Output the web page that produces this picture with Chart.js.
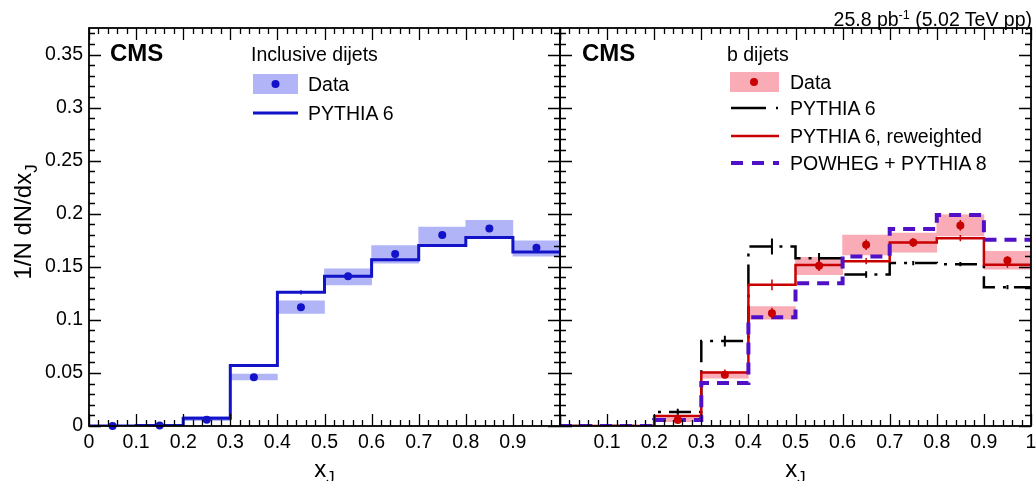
<!DOCTYPE html>
<html>
<head>
<meta charset="utf-8">
<script src="https://cdn.jsdelivr.net/npm/chart.js@4.4.1/dist/chart.umd.min.js"></script>
<style>
  html, body { margin: 0; padding: 0; background: #fff; overflow: hidden; }
  body { width: 1036px; height: 481px; position: relative; font-family: "Liberation Sans", Arial, sans-serif; color: #000; }
  canvas { position: absolute; top: 0; }
  .t { position: absolute; white-space: nowrap; font-size: 19.5px; line-height: 1; }
  .cms { font-weight: bold; font-size: 24px; }
  .axt { font-size: 24px; text-align: center; width: 300px; }
  .axt sub { font-size: 70%; vertical-align: -0.35em; line-height: 0; }
  sup { font-size: 65%; vertical-align: 0.55em; line-height: 0; }
  svg { position: absolute; left: 0; top: 0; }
</style>
</head>
<body>
<canvas id="left" width="580" height="481" style="left:0"></canvas>
<canvas id="right" width="520" height="481" style="left:540px"></canvas>

<svg width="1036" height="481">
  <!-- left legend -->
  <rect x="253" y="74" width="45" height="20" fill="#b1b5f8"/>
  <circle cx="275.5" cy="84" r="4" fill="#1212c8"/>
  <line x1="253" y1="113" x2="298" y2="113" stroke="#1212c8" stroke-width="3"/>
  <!-- right legend -->
  <rect x="730" y="72" width="49" height="20" fill="#f9abb6"/>
  <circle cx="754" cy="82" r="4" fill="#c80000"/>
  <line x1="731" y1="108" x2="766" y2="108" stroke="#000" stroke-width="2.5"/>
  <line x1="776" y1="108" x2="778" y2="108" stroke="#000" stroke-width="2.5"/>
  <line x1="731" y1="136" x2="779" y2="136" stroke="#c80000" stroke-width="2.5"/>
  <line x1="731" y1="163" x2="779" y2="163" stroke="#5010c8" stroke-width="4" stroke-dasharray="12 9"/>
</svg>

<div class="t cms" style="left:110px; top:41px">CMS</div>
<div class="t" style="left:251px; top:45px">Inclusive dijets</div>
<div class="t" style="left:308px; top:74.5px">Data</div>
<div class="t" style="left:308px; top:103.5px">PYTHIA 6</div>

<div class="t cms" style="left:582px; top:41px">CMS</div>
<div class="t" style="left:727px; top:44.5px">b dijets</div>
<div class="t" style="left:790px; top:72.5px">Data</div>
<div class="t" style="left:790px; top:98.5px">PYTHIA 6</div>
<div class="t" style="left:790px; top:126.5px">PYTHIA 6, reweighted</div>
<div class="t" style="left:790px; top:153.5px">POWHEG + PYTHIA 8</div>

<div class="t" style="right:4px; top:9.5px">25.8 pb<sup>-1</sup> (5.02 TeV pp)</div>

<div class="t axt" style="left:-127px; top:210px; transform:rotate(-90deg)">1/N dN/dx<sub>J</sub></div>
<div class="t axt" style="left:174.5px; top:456.5px">x<sub>J</sub></div>
<div class="t axt" style="left:645.5px; top:456.5px">x<sub>J</sub></div>

<script>
// bins in x_J
const binEdges = [0, 0.1, 0.2, 0.3, 0.4, 0.5, 0.6, 0.7, 0.8, 0.9, 1.0];
const binCenters = [0.05, 0.15, 0.25, 0.35, 0.45, 0.55, 0.65, 0.75, 0.85, 0.95];

// inclusive dijets
const incData = [0, 0.0005, 0.006, 0.046, 0.112, 0.141, 0.162, 0.180, 0.186, 0.168];
const incSysLo = [0, 0, 0.005, 0.0434, 0.106, 0.133, 0.1535, 0.1717, 0.178, 0.160];
const incSysHi = [0, 0, 0.0088, 0.049, 0.118, 0.148, 0.170, 0.1875, 0.1937, 0.1745];
const incPythia = [0, 0.0005, 0.0072, 0.057, 0.126, 0.141, 0.1566, 0.170, 0.1777, 0.164];
const incPythiaErr = [0, 0, 0.001, 0.001, 0.002, 0.001, 0.001, 0.001, 0.001, 0.001];

// b dijets
const bData = [null, null, 0.0057, 0.0484, 0.1063, 0.151, 0.1708, 0.173, 0.189, 0.156];
const bDataErr = [0, 0, 0.002, 0.003, 0.005, 0.005, 0.005, 0.004, 0.005, 0.004];
const bSysLo = [0, 0, 0.004, 0.045, 0.1006, 0.1425, 0.1613, 0.1638, 0.179, 0.1478];
const bSysHi = [0, 0, 0.0078, 0.0512, 0.1126, 0.159, 0.180, 0.1818, 0.199, 0.1645];
const bPythia = [0, 0, 0.0132, 0.080, 0.1692, 0.158, 0.1428, 0.1535, 0.1525, 0.1308];
const bPythiaErr = [0, 0, 0.003, 0.005, 0.0075, 0.005, 0.003, 0.002, 0.002, 0.002];
const bReweighted = [0, 0, 0.0094, 0.0503, 0.133, 0.1516, 0.1553, 0.173, 0.177, 0.152];
const bReweightedErr = [0, 0, 0.002, 0.003, 0.005, 0.004, 0.003, 0.004, 0.003, 0.003];
const bPowheg = [0, 0, 0.0057, 0.0405, 0.1025, 0.1346, 0.1598, 0.1855, 0.1987, 0.1755];

const yMax = 0.375;
const FONT = "'Liberation Sans', Arial, sans-serif";

const BLUE = "#1212c8", BLUE_BAND = "#b1b5f8";
const RED = "#c80000", RED_BAND = "#f9abb6";
const PURPLE = "#5010c8";

// histogram as step line through the bin edges
function steps(vals) {
  const pts = vals.map((v, i) => ({ x: binEdges[i], y: v }));
  pts.push({ x: binEdges[binEdges.length - 1], y: vals[vals.length - 1] });
  return pts;
}

// vertical error bars as separate segments
function errBars(vals, errs) {
  const pts = [];
  vals.forEach((v, i) => {
    if (v == null || !errs[i]) return;
    pts.push({ x: binCenters[i], y: v - errs[i] }, { x: binCenters[i], y: v + errs[i] }, { x: binCenters[i], y: null });
  });
  return pts;
}

function band(lo, hi) {
  const out = [];
  binCenters.forEach((c, i) => {
    if (hi[i] > lo[i]) out.push({ x: c, y: [lo[i], hi[i]] });
  });
  return out;
}

function points(vals) {
  const out = [];
  binCenters.forEach((c, i) => { if (vals[i] != null) out.push({ x: c, y: vals[i] }); });
  return out;
}

// frame with inward ROOT style ticks on all four sides
const framePlugin = {
  id: "frame",
  afterDraw(chart) {
    const { ctx, chartArea: a, scales } = chart;
    const x = scales.x, y = scales.y;
    ctx.save();
    ctx.strokeStyle = "#000";
    ctx.lineWidth = 1.3;
    ctx.beginPath();
    for (let i = 0; i <= 50; i++) {
      const px = Math.round(x.getPixelForValue(i * 0.02)) + 0.5;
      const len = i % 5 === 0 ? 12 : 6;
      ctx.moveTo(px, a.bottom); ctx.lineTo(px, a.bottom - len);
      ctx.moveTo(px, a.top); ctx.lineTo(px, a.top + len);
    }
    for (let i = 0; i <= 37; i++) {
      const py = Math.round(y.getPixelForValue(i * 0.01)) + 0.5;
      const len = i % 5 === 0 ? 12 : 6;
      ctx.moveTo(a.left, py); ctx.lineTo(a.left + len, py);
      ctx.moveTo(a.right, py); ctx.lineTo(a.right - len, py);
    }
    ctx.stroke();
    ctx.lineWidth = 1.8;
    ctx.strokeRect(a.left, a.top, a.right - a.left, a.bottom - a.top);
    ctx.restore();
  }
};

function makeOptions(side) {
  const isLeft = side === "left";
  const tickFont = { family: FONT, size: 19.5 };
  return {
    responsive: false,
    animation: false,
    events: [],
    layout: { padding: isLeft ? { top: 28, right: 20, left: 0, bottom: 0 } : { top: 28, right: 29, left: 20, bottom: 0 } },
    plugins: { legend: { display: false }, tooltip: { enabled: false } },
    scales: {
      x: {
        type: "linear", min: 0, max: 1, offset: false,
        grid: { display: false, drawTicks: false }, border: { display: false },
        ticks: {
          stepSize: 0.1, autoSkip: false, maxRotation: 0, padding: 5, color: "#000", font: tickFont,
          callback: v => ((isLeft && v >= 0.999) || (!isLeft && v <= 0.001)) ? "" : String(+v.toFixed(1))
        },
        afterFit: s => { s.height = 55; }
      },
      y: {
        type: "linear", min: 0, max: yMax, display: isLeft,
        grid: { display: false, drawTicks: false }, border: { display: false },
        ticks: {
          stepSize: 0.05, includeBounds: false, padding: 6, color: "#000", font: tickFont,
          callback: v => String(+v.toFixed(2))
        },
        afterFit: s => { if (isLeft) s.width = 89; }
      }
    }
  };
}

const stepStyle = { type: "line", stepped: "before", pointRadius: 0, fill: false, tension: 0 };
const errStyle = { type: "line", pointRadius: 0, spanGaps: false, fill: false };
const bandStyle = { type: "bar", barPercentage: 1, categoryPercentage: 1, borderWidth: 0, grouped: false };

new Chart(document.getElementById("left"), {
  type: "line",
  data: {
    datasets: [
      { type: "scatter", data: points(incData), pointRadius: 4, pointBackgroundColor: BLUE, pointBorderWidth: 0, clip: false, order: 0 },
      { ...errStyle, data: errBars(incPythia, incPythiaErr), borderColor: BLUE, borderWidth: 1.5, order: 1 },
      { ...stepStyle, data: steps(incPythia), borderColor: BLUE, borderWidth: 3, order: 2 },
      { ...bandStyle, data: band(incSysLo, incSysHi), backgroundColor: BLUE_BAND, order: 5 }
    ]
  },
  options: makeOptions("left"),
  plugins: [framePlugin]
});

new Chart(document.getElementById("right"), {
  type: "line",
  data: {
    datasets: [
      { type: "scatter", data: points(bData), pointRadius: 4, pointBackgroundColor: RED, pointBorderWidth: 0, clip: false, order: 0 },
      { ...errStyle, data: errBars(bData, bDataErr), borderColor: RED, borderWidth: 1.5, order: 1 },
      { ...errStyle, data: errBars(bReweighted, bReweightedErr), borderColor: RED, borderWidth: 1.5, order: 1 },
      { ...errStyle, data: errBars(bPythia, bPythiaErr), borderColor: "#000", borderWidth: 2, order: 1 },
      { ...stepStyle, data: steps(bPowheg), borderColor: PURPLE, borderWidth: 4, borderDash: [12, 8], order: 2 },
      { ...stepStyle, data: steps(bReweighted), borderColor: RED, borderWidth: 2.5, order: 3 },
      { ...stepStyle, data: steps(bPythia), borderColor: "#000", borderWidth: 2.5, borderDash: [22, 8, 3, 8], order: 4 },
      { ...bandStyle, data: band(bSysLo, bSysHi), backgroundColor: RED_BAND, order: 6 }
    ]
  },
  options: makeOptions("right"),
  plugins: [framePlugin]
});
</script>
</body>
</html>
